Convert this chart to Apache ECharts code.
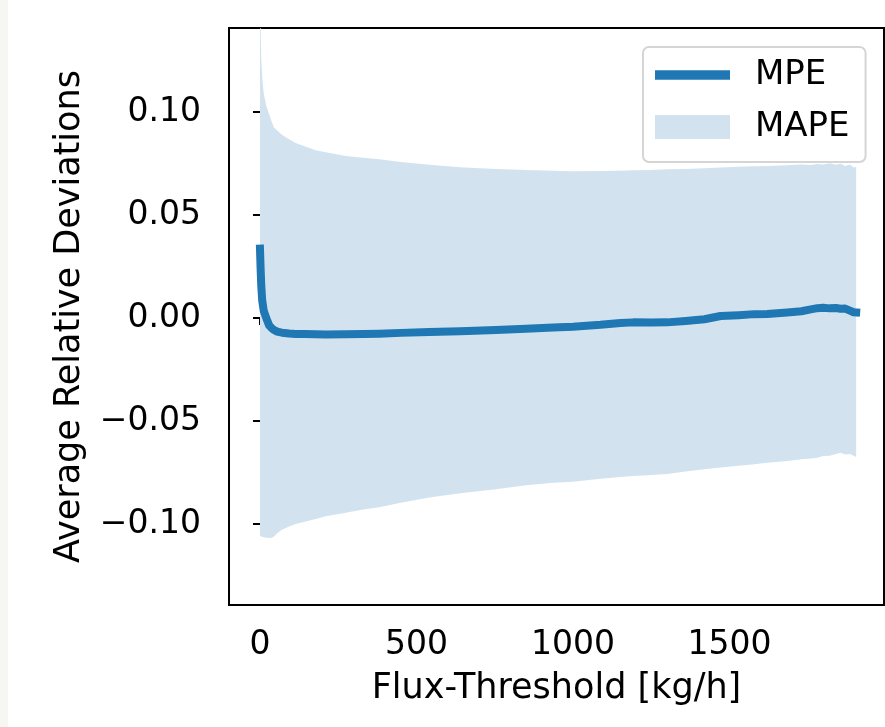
<!DOCTYPE html>
<html>
<head>
<meta charset="utf-8">
<script src="https://cdn.jsdelivr.net/npm/echarts@6.0.0/dist/echarts.min.js"></script>
<style>
html, body { margin: 0; padding: 0; background: #fff; }
#chart { width: 885px; height: 727px; }
</style>
</head>
<body>
<div id="chart"></div>
<script>
// flux threshold values (kg/h)
var xs = [0, 2, 4, 7, 12, 20, 29, 38, 45, 55, 70, 93, 114, 140, 178, 210, 274, 330, 381, 450,
    541, 640, 754, 850, 937, 1000, 1088, 1152, 1193, 1250, 1301, 1360, 1420, 1472, 1530, 1580,
    1621, 1685, 1730, 1760, 1781, 1800, 1820, 1840, 1855, 1870, 1885, 1897, 1905];

var mpe = [0.0337, 0.0240, 0.0160, 0.0087, 0.0035, 0.0000, -0.0035, -0.0050, -0.0058, -0.0066,
    -0.0071, -0.0075, -0.0077, -0.0078, -0.0079, -0.0080, -0.0079, -0.0078, -0.0076, -0.0072,
    -0.0068, -0.0064, -0.0058, -0.0052, -0.0046, -0.0042, -0.0033, -0.0024, -0.0021, -0.0022,
    -0.0021, -0.0014, -0.0006, 0.0010, 0.0014, 0.0019, 0.0020, 0.0027, 0.0033, 0.0042,
    0.0048, 0.0050, 0.0047, 0.0049, 0.0045, 0.0046, 0.0036, 0.0028, 0.0027];

var mapeHi = [0.22, 0.142, 0.126, 0.117, 0.109, 0.103, 0.099, 0.095, 0.0924, 0.091,
    0.089, 0.0868, 0.085, 0.0835, 0.0815, 0.0805, 0.0787, 0.0778, 0.0771, 0.0758,
    0.0744, 0.0732, 0.0724, 0.0719, 0.0715, 0.0713, 0.0714, 0.0715, 0.0717, 0.0719,
    0.0722, 0.0724, 0.0727, 0.0731, 0.0735, 0.0737, 0.0738, 0.0742, 0.0745, 0.0743,
    0.0748, 0.0745, 0.0752, 0.0744, 0.0749, 0.0738, 0.0745, 0.0731, 0.0733];

var mapeLo = [-0.1056, -0.1058, -0.1060, -0.1062, -0.1064, -0.1066, -0.1068, -0.1067, -0.1060, -0.1045,
    -0.1028, -0.1012, -0.1000, -0.0990, -0.0975, -0.0962, -0.0945, -0.0930, -0.0919, -0.0897,
    -0.0871, -0.0850, -0.0831, -0.0812, -0.0800, -0.0795, -0.0780, -0.0772, -0.0767, -0.0762,
    -0.0757, -0.0745, -0.0734, -0.0726, -0.0717, -0.0710, -0.0702, -0.0694, -0.0686, -0.0682,
    -0.0678, -0.0670, -0.0668, -0.0660, -0.0654, -0.0662, -0.0660, -0.0668, -0.0675];

var xTicks = [0, 500, 1000, 1500];
var yTicks = [-0.10, -0.05, 0.00, 0.05, 0.10];

var font = 'DejaVu Sans';
var blue = '#1f77b4';
var band = '#d2e3ef';

function fmtY(v) {
    var s = Math.abs(v).toFixed(2);
    return (v < -1e-9 ? '\u2212' : '') + s;
}

var chart = echarts.init(document.getElementById('chart'));

var option = {
    animation: false,
    backgroundColor: '#fff',
    graphic: [{
        type: 'rect', left: 0, top: 0,
        shape: {width: 8, height: 727},
        style: {fill: '#f6f6f2'}
    }],
    grid: {
        left: 229, top: 28, right: 1, bottom: 122,
        show: true, borderColor: '#000', borderWidth: 2,
        backgroundColor: '#fff'
    },
    legend: {
        left: 643, top: 47,
        orient: 'vertical',
        data: [
            {name: 'MPE', icon: 'path://M0,0H80V10H0Z'},
            {name: 'MAPE', icon: 'rect'}
        ],
        itemWidth: 75, itemHeight: 24, itemGap: 18,
        padding: [11, 16, 18, 12],
        backgroundColor: '#fff',
        borderColor: '#d5d5d5', borderWidth: 2, borderRadius: 6,
        textStyle: {fontFamily: font, fontSize: 34, color: '#000', lineHeight: 34, padding: [0, 0, 0, 20]}
    },
    xAxis: {
        type: 'value', min: -99, max: 1994,
        name: 'Flux-Threshold [kg/h]', nameLocation: 'middle', nameGap: 66,
        nameTextStyle: {fontFamily: font, fontSize: 35, color: '#000'},
        axisLine: {show: false},
        axisTick: {show: true, inside: false, length: 7, lineStyle: {color: '#000', width: 2}, customValues: xTicks},
        axisLabel: {fontFamily: font, fontSize: 33, color: '#000', margin: 24, customValues: xTicks,
            formatter: function (v) { return String(v); }},
        splitLine: {show: false}
    },
    yAxis: {
        type: 'value', min: -0.1393, max: 0.1408,
        name: 'Average Relative Deviations', nameLocation: 'middle', nameGap: 142, nameRotate: 90,
        nameTextStyle: {fontFamily: font, fontSize: 35, color: '#000'},
        axisLine: {show: false},
        axisTick: {show: true, inside: false, length: 7, lineStyle: {color: '#000', width: 2}, customValues: yTicks},
        axisLabel: {fontFamily: font, fontSize: 33, color: '#000', margin: 28, formatter: fmtY, customValues: yTicks},
        splitLine: {show: false}
    },
    series: [
        {
            name: 'MAPE',
            type: 'custom',
            clip: true,
            itemStyle: {color: band},
            data: xs.map(function (x, i) { return [x, mapeLo[i], mapeHi[i]]; }),
            encode: {x: 0, y: [1, 2]},
            renderItem: function (params, api) {
                if (params.dataIndex !== 0) return null;
                var pts = [];
                for (var i = 0; i < xs.length; i++) pts.push(api.coord([xs[i], mapeHi[i]]));
                for (var j = xs.length - 1; j >= 0; j--) pts.push(api.coord([xs[j], mapeLo[j]]));
                return {type: 'polygon', shape: {points: pts}, style: {fill: band}};
            },
            z: 1
        },
        {
            name: 'MPE',
            type: 'line',
            data: xs.map(function (x, i) { return [x, mpe[i]]; }),
            showSymbol: false,
            symbol: 'none',
            smooth: false,
            lineStyle: {color: blue, width: 8, cap: 'square', join: 'round'},
            itemStyle: {color: blue},
            z: 3
        }
    ]
};

chart.setOption(option);
</script>
</body>
</html>
